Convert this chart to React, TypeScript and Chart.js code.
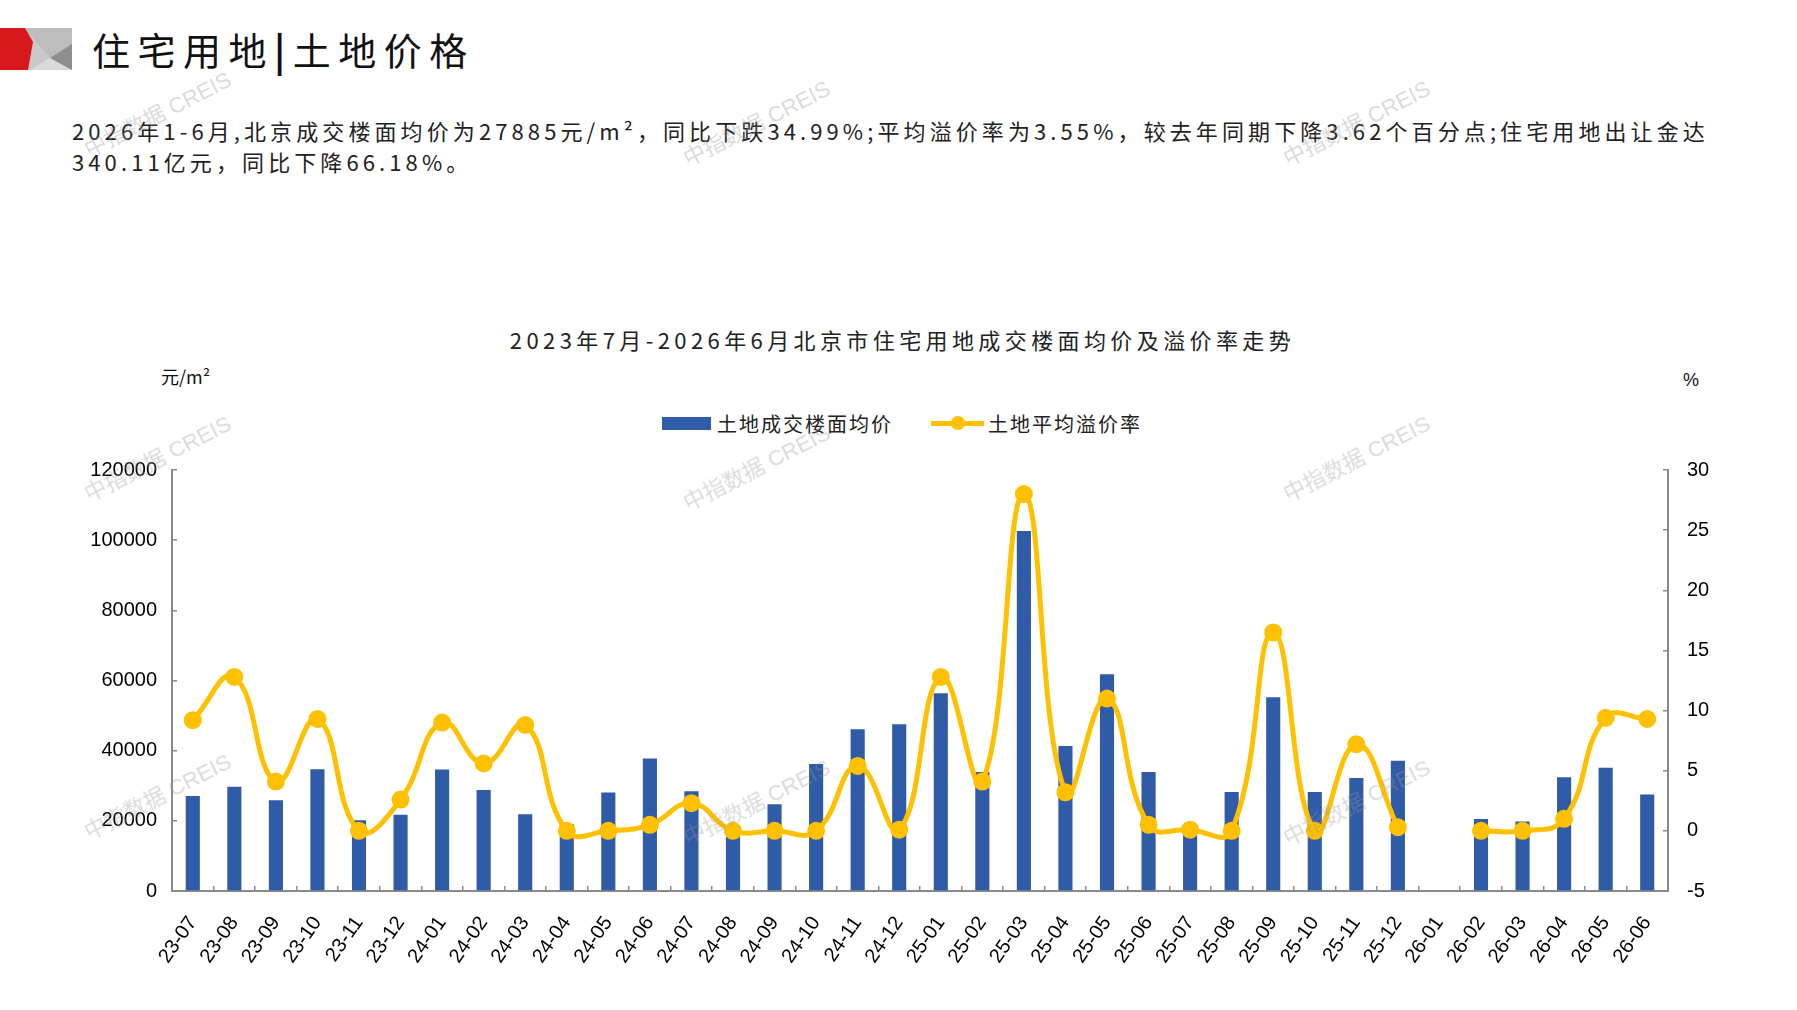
import { useEffect, useRef } from "react";
import { Chart, registerables } from "chart.js";

Chart.register(...registerables);

const months = [
  "23-07", "23-08", "23-09", "23-10", "23-11", "23-12",
  "24-01", "24-02", "24-03", "24-04", "24-05", "24-06",
  "24-07", "24-08", "24-09", "24-10", "24-11", "24-12",
  "25-01", "25-02", "25-03", "25-04", "25-05", "25-06",
  "25-07", "25-08", "25-09", "25-10", "25-11", "25-12",
  "26-01", "26-02", "26-03", "26-04", "26-05", "26-06",
];

// 土地成交楼面均价 (元/m²)
const floorPrice = [
  27100, 29700, 25900, 34700, 20200, 21700,
  34600, 28800, 21900, 19000, 28100, 37800,
  28400, 18500, 24700, 36200, 46100, 47500,
  56400, 33900, 102600, 41300, 61800, 33900,
  16000, 28200, 55200, 28200, 32200, 37100,
  null, 20500, 19800, 32400, 35100, 27500,
];

// 土地平均溢价率 (%)
const premiumRate = [
  9.2, 12.8, 4.1, 9.3, 0, 2.6,
  9.0, 5.6, 8.8, 0, 0, 0.5,
  2.3, 0, 0, 0, 5.4, 0.1,
  12.8, 4.1, 28.0, 3.2, 11.0, 0.5,
  0.1, 0, 16.5, 0, 7.2, 0.3,
  null, 0, 0, 1.0, 9.4, 9.3,
];

const priceTicks = { min: 0, max: 120000, step: 20000 };
const rateTicks = { min: -5, max: 30, step: 5 };

const BLUE = "#2F5BA7";
const GOLD = "#FFC000";
const AXIS = "#8A8A8A";
const CJK = '"Noto Sans CJK SC", "Noto Sans", sans-serif';
const NUM = '"Liberation Sans", Arial, sans-serif';

const watermarks = [
  [158, 115], [757, 124], [1357, 124],
  [158, 459], [757, 468], [1357, 459],
  [158, 797], [757, 803], [1357, 803],
];

function PriceChart() {
  const canvasRef = useRef<HTMLCanvasElement>(null);
  const chartRef = useRef<Chart | null>(null);

  useEffect(() => {
    if (!canvasRef.current) return;
    chartRef.current?.destroy();

    chartRef.current = new Chart(canvasRef.current, {
      type: "bar",
      data: {
        labels: months,
        datasets: [
          {
            type: "line",
            label: "土地平均溢价率",
            data: premiumRate,
            yAxisID: "y1",
            borderColor: GOLD,
            backgroundColor: GOLD,
            borderWidth: 5,
            pointRadius: 6.5,
            pointBackgroundColor: GOLD,
            pointBorderColor: GOLD,
            tension: 0.45,
            spanGaps: false,
            order: 0,
          },
          {
            type: "bar",
            label: "土地成交楼面均价",
            data: floorPrice,
            yAxisID: "y",
            backgroundColor: BLUE,
            barPercentage: 0.34,
            categoryPercentage: 1,
            order: 1,
          },
        ],
      },
      options: {
        animation: false,
        responsive: true,
        maintainAspectRatio: false,
        layout: { padding: { top: 24, left: 0, right: 0, bottom: 0 } },
        plugins: {
          legend: { display: false },
          title: { display: false },
          tooltip: { enabled: false },
        },
        scales: {
          x: {
            offset: true,
            grid: {
              drawOnChartArea: false,
              drawTicks: true,
              tickLength: -5,
              color: AXIS,
              lineWidth: 1.5,
              offset: true,
            },
            border: { display: true, color: AXIS, width: 2 },
            ticks: {
              minRotation: 55,
              maxRotation: 55,
              autoSkip: false,
              padding: 26,
              color: "#000",
              font: { family: NUM, size: 20 },
            },
            afterFit: (scale) => {
              scale.height = 119;
            },
          },
          y: {
            position: "left",
            min: priceTicks.min,
            max: priceTicks.max,
            grid: {
              drawOnChartArea: false,
              drawTicks: true,
              tickLength: -5,
              color: AXIS,
              lineWidth: 1.5,
            },
            border: { display: true, color: AXIS, width: 2 },
            ticks: {
              stepSize: priceTicks.step,
              padding: 20,
              color: "#000",
              font: { family: NUM, size: 20 },
              callback: (v) => String(v),
            },
            afterFit: (scale) => {
              scale.width = 172;
            },
          },
          y1: {
            position: "right",
            min: rateTicks.min,
            max: rateTicks.max,
            grid: {
              drawOnChartArea: false,
              drawTicks: true,
              tickLength: -5,
              color: AXIS,
              lineWidth: 1.5,
            },
            border: { display: true, color: AXIS, width: 2 },
            ticks: {
              stepSize: rateTicks.step,
              padding: 24,
              color: "#000",
              font: { family: NUM, size: 20 },
              callback: (v) => String(v),
            },
            afterFit: (scale) => {
              scale.width = 129;
            },
          },
        },
      },
    });

    return () => {
      chartRef.current?.destroy();
      chartRef.current = null;
    };
  }, []);

  return (
    <div style={{ position: "absolute", left: 0, top: 434, width: 1797, height: 576 }}>
      <canvas ref={canvasRef} />
    </div>
  );
}

export default function App() {
  useEffect(() => {
    document.body.style.margin = "0";
    document.body.style.background = "#fff";
  }, []);

  return (
    <div
      style={{
        position: "relative",
        width: 1797,
        height: 1010,
        background: "#fff",
        overflow: "hidden",
        fontFamily: CJK,
        color: "#111",
      }}
    >
      {/* header icon */}
      <svg style={{ position: "absolute", left: 0, top: 28 }} width={74} height={44}>
        <rect x={0} y={0} width={72} height={42} fill="#C9C9C9" />
        <polygon points="24,0 72,0 72,18 50,30" fill="#BDBDBD" />
        <polygon points="30,42 50,30 72,42" fill="#DADADA" />
        <polygon points="50,30 72,16 72,42" fill="#8E8E8E" />
        <polygon points="0,0 25,0 33,14 28,42 0,42" fill="#D7191C" />
      </svg>
      <div
        style={{
          position: "absolute",
          left: 92,
          top: 24,
          fontSize: 38,
          letterSpacing: 7.5,
          lineHeight: "50px",
          whiteSpace: "nowrap",
        }}
      >
        住宅用地<span style={{ fontWeight: 700 }}>|</span>土地价格
      </div>

      <div
        style={{
          position: "absolute",
          left: 72,
          top: 115,
          fontSize: 22,
          letterSpacing: 4.1,
          lineHeight: "31px",
          whiteSpace: "nowrap",
          color: "#222",
        }}
      >
        2026年1-6月,北京成交楼面均价为27885元/m²，同比下跌34.99%;平均溢价率为3.55%，较去年同期下降3.62个百分点;住宅用地出让金达
        <br />
        340.11亿元，同比下降66.18%。
      </div>

      <div
        style={{
          position: "absolute",
          left: 0,
          width: 1797,
          top: 323,
          textAlign: "center",
          fontSize: 22,
          letterSpacing: 4.4,
          lineHeight: "32px",
          whiteSpace: "nowrap",
          color: "#222",
          paddingLeft: 4,
        }}
      >
        2023年7月-2026年6月北京市住宅用地成交楼面均价及溢价率走势
      </div>

      <div style={{ position: "absolute", left: 161, top: 364, fontSize: 18, lineHeight: "24px" }}>
        元/m²
      </div>
      <div style={{ position: "absolute", left: 1683, top: 368, fontSize: 18, lineHeight: "24px", fontFamily: NUM }}>
        %
      </div>

      {/* legend */}
      <div
        style={{
          position: "absolute",
          top: 409,
          left: 662,
          height: 28,
          display: "flex",
          alignItems: "center",
          fontSize: 20,
          letterSpacing: 2,
          whiteSpace: "nowrap",
          color: "#222",
        }}
      >
        <span style={{ display: "inline-block", width: 49, height: 13, background: BLUE, marginRight: 6 }} />
        <span>土地成交楼面均价</span>
        <span
          style={{
            position: "relative",
            display: "inline-block",
            width: 53,
            height: 14,
            marginLeft: 38,
            marginRight: 4,
          }}
        >
          <span style={{ position: "absolute", left: 0, right: 0, top: 5, height: 5, background: GOLD }} />
          <span
            style={{
              position: "absolute",
              left: 20,
              top: 0,
              width: 14,
              height: 14,
              borderRadius: 7,
              background: GOLD,
            }}
          />
        </span>
        <span>土地平均溢价率</span>
      </div>

      <PriceChart />

      {watermarks.map(([x, y], i) => (
        <div
          key={i}
          style={{
            position: "absolute",
            left: x - 90,
            top: y - 14,
            width: 180,
            textAlign: "center",
            fontSize: 22,
            lineHeight: "28px",
            color: "rgba(150,150,150,0.35)",
            transform: "rotate(-27deg)",
            whiteSpace: "nowrap",
            pointerEvents: "none",
            fontFamily: '"Liberation Sans", "Noto Sans CJK SC", sans-serif',
          }}
        >
          中指数据 CREIS
        </div>
      ))}
    </div>
  );
}
